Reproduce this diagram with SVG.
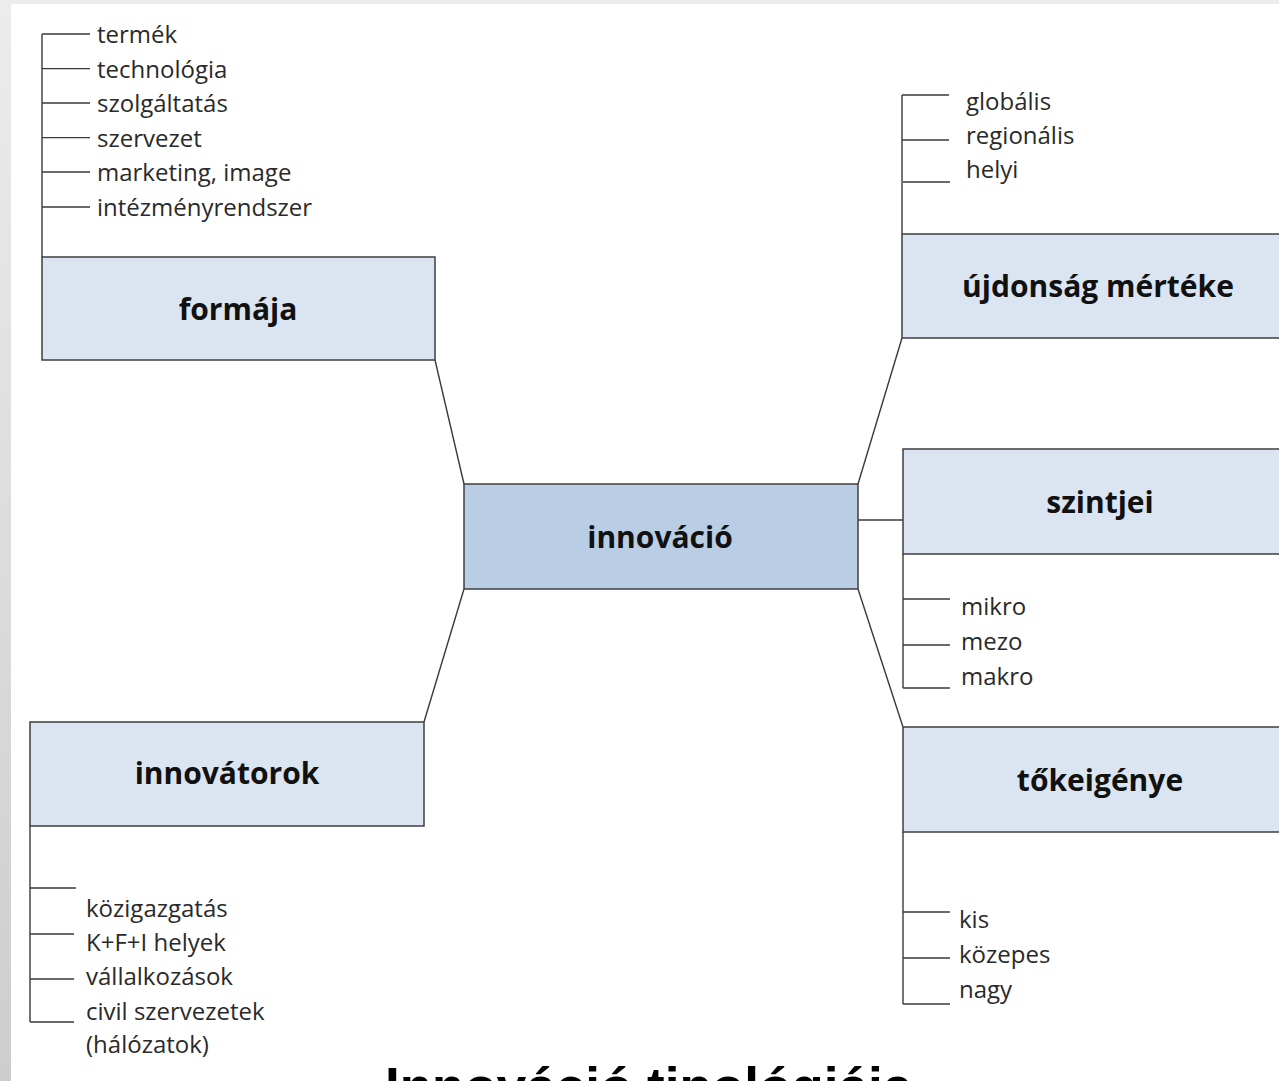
<svg xmlns="http://www.w3.org/2000/svg" width="1279" height="1081" viewBox="0 0 1279 1081">
<defs>
<linearGradient id="strip" x1="0" y1="0" x2="0" y2="1">
<stop offset="0" stop-color="#ececec"/>
<stop offset="1" stop-color="#cdcdcd"/>
</linearGradient>
</defs>
<style>
.box{fill:#dbe5f1;stroke:#3f3f3f;stroke-width:1.5}
.main{fill:#b9cde5;stroke:#3f3f3f;stroke-width:1.5}
.ln{stroke:#3a3a3a;stroke-width:1.4;fill:none}
.head{font-family:"Open Sans","Noto Sans",sans-serif;font-weight:bold;font-size:30px;fill:#111;text-anchor:middle}
.item{font-family:"Open Sans","Noto Sans",sans-serif;font-size:24px;fill:#2a2a2a}
.title{font-family:"Liberation Sans",Arial,sans-serif;font-weight:bold;font-size:53px;fill:#000}
</style>
<rect x="0" y="0" width="1279" height="1081" fill="#ffffff"/>
<rect x="0" y="0" width="1279" height="4" fill="#ececec"/>
<rect x="0" y="0" width="11" height="1081" fill="url(#strip)"/>

<g id="connectors">
<line class="ln" x1="435" y1="360" x2="464" y2="484"/>
<line class="ln" x1="902" y1="338" x2="858" y2="484"/>
<line class="ln" x1="464" y1="589" x2="424" y2="722"/>
<line class="ln" x1="858" y1="589" x2="903" y2="727"/>
<line class="ln" x1="858" y1="520" x2="903" y2="520"/>
</g>

<g id="formaja">
<path class="ln" d="M42 34V257M42 34H90M42 68.6H90M42 103H90M42 137.6H90M42 172H90M42 207H90"/>
<rect class="box" x="42" y="257" width="393" height="103"/>
<text class="head" x="238" y="320">formája</text>
<text class="item" x="97" y="43">termék</text>
<text class="item" x="97" y="77.5">technológia</text>
<text class="item" x="97" y="112">szolgáltatás</text>
<text class="item" x="97" y="146.5">szervezet</text>
<text class="item" x="97" y="181">marketing, image</text>
<text class="item" x="97" y="215.5">intézményrendszer</text>
</g>

<g id="ujdonsag">
<path class="ln" d="M902 95V234M902 95H949M902 140H949M903 182H950"/>
<rect class="box" x="902" y="234" width="380" height="104"/>
<text class="head" x="1098" y="297">újdonság mértéke</text>
<text class="item" x="966" y="110">globális</text>
<text class="item" x="966" y="144">regionális</text>
<text class="item" x="966" y="178">helyi</text>
</g>

<g id="innovacio">
<rect class="main" x="464" y="484" width="394" height="105"/>
<text class="head" x="660" y="548">innováció</text>
</g>

<g id="szintjei">
<path class="ln" d="M903 554V688M903 599H950M903 645H950M903 688H950"/>
<rect class="box" x="903" y="449" width="380" height="105"/>
<text class="head" x="1100" y="513">szintjei</text>
<text class="item" x="961" y="615">mikro</text>
<text class="item" x="961" y="650">mezo</text>
<text class="item" x="961" y="685">makro</text>
</g>

<g id="tokeigenye">
<path class="ln" d="M903 832V1004M903 912H950M903 958H950M903 1004H950"/>
<rect class="box" x="903" y="727" width="380" height="105"/>
<text class="head" x="1100" y="791">tőkeigénye</text>
<text class="item" x="959" y="928">kis</text>
<text class="item" x="959" y="963">közepes</text>
<text class="item" x="959" y="998">nagy</text>
</g>

<g id="innovatorok">
<path class="ln" d="M30 826V1022M30 888H76M30 934H74M30 979H74M30 1022H74"/>
<rect class="box" x="30" y="722" width="394" height="104"/>
<text class="head" x="227" y="784">innovátorok</text>
<text class="item" x="86" y="917">közigazgatás</text>
<text class="item" x="86" y="951">K+F+I helyek</text>
<text class="item" x="86" y="985">vállalkozások</text>
<text class="item" x="86" y="1020">civil szervezetek</text>
<text class="item" x="86" y="1053">(hálózatok)</text>
</g>

<text id="title" class="title" x="385" y="1105">Innováció tipológiája</text>
</svg>
